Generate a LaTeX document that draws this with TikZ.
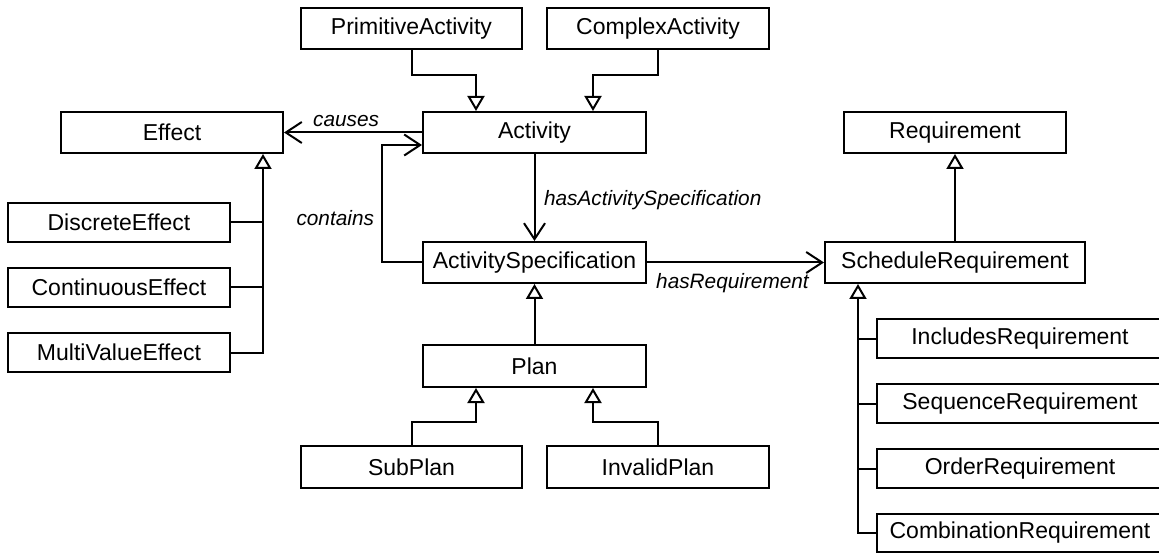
\documentclass[tikz,border=0pt]{standalone}
\usepackage{fontspec}
\setmainfont{Liberation Sans}
\usetikzlibrary{arrows.meta,calc}
\begin{document}
\begin{tikzpicture}[x=1pt,y=-1pt,
  cls/.style={draw, line width=2pt, rectangle, minimum height=41pt, inner sep=0pt,
    font=\fontsize{23}{27}\selectfont},
  lbl/.style={font=\fontsize{20.8}{24}\selectfont\itshape, inner sep=0pt},
  ln/.style={draw, line width=2pt},
  gen/.style={ln, -{Triangle[open, length=15pt, width=17pt]}},
  assoc/.style={ln, -{Straight Barb[length=16pt, width=21pt]}}]
\fill[white] (0,0) rectangle (1159,553);
\useasboundingbox (0,0) rectangle (1159,553);
% nodes
\node[cls, minimum width=221pt] (PA) at (411.5,29) {PrimitiveActivity};
\node[cls, minimum width=222pt] (CA) at (658,29) {ComplexActivity};
\node[cls, minimum width=223pt] (Act) at (534.5,132.5) {Activity};
\node[cls, minimum width=222pt] (Eff) at (172,132.5) {Effect};
\node[cls, minimum width=222pt, minimum height=39pt] (DE) at (119,222.5) {DiscreteEffect};
\node[cls, minimum width=222pt, minimum height=39pt] (CE) at (119,287.5) {ContinuousEffect};
\node[cls, minimum width=222pt, minimum height=39pt] (MV) at (119,352.5) {MultiValueEffect};
\node[cls, minimum width=223pt] (Spec) at (534.5,262.5) {ActivitySpecification};
\node[cls, minimum width=223pt, minimum height=42pt] (Plan) at (534.5,366) {Plan};
\node[cls, minimum width=221pt, minimum height=42pt] (Sub) at (411.5,467) {SubPlan};
\node[cls, minimum width=222pt, minimum height=42pt] (Inv) at (658,467) {InvalidPlan};
\node[cls, minimum width=222pt] (Req) at (955,132.5) {Requirement};
\node[cls, minimum width=260pt] (Sch) at (955,262.5) {ScheduleRequirement};
\node[cls, minimum width=286pt, minimum height=39pt] (Inc) at (1020,338.5) {IncludesRequirement};
\node[cls, minimum width=286pt, minimum height=39pt] (Seq) at (1020,403.5) {SequenceRequirement};
\node[cls, minimum width=286pt, minimum height=39pt] (Ord) at (1020,468.5) {OrderRequirement};
\node[cls, minimum width=286pt, minimum height=38pt] (Comb) at (1020,533) {CombinationRequirement};
% helper coordinates
\coordinate (actL) at ($(Act.north)+(-58.5,0)$);
\coordinate (actR) at ($(Act.north)+(58.5,0)$);
\coordinate (planL) at ($(Plan.south)+(-58.5,0)$);
\coordinate (planR) at ($(Plan.south)+(58.5,0)$);
\coordinate (effT) at ($(Eff.south east)+(-21,0)$);
\coordinate (schT) at ($(Sch.south west)+(34,0)$);
% generalizations
\draw[gen] (PA.south) -- ++(0,25) -| (actL);
\draw[gen] (CA.south) -- ++(0,25) -| (actR);
\draw[gen] (MV.east) -| (effT);
\draw[ln] (DE.east) -- (DE.east -| effT);
\draw[ln] (CE.east) -- (CE.east -| effT);
\draw[gen] (Plan.north) -- (Spec.south);
\draw[gen] (Sub.north) -- ++(0,-23) -| (planL);
\draw[gen] (Inv.north) -- ++(0,-23) -| (planR);
\draw[gen] (Sch.north) -- (Req.south);
\draw[gen] (Comb.west) -| (schT);
\draw[ln] (Inc.west) -- (Inc.west -| schT);
\draw[ln] (Seq.west) -- (Seq.west -| schT);
\draw[ln] (Ord.west) -- (Ord.west -| schT);
% associations
\draw[assoc] (Act.west) -- node[lbl, pos=0.55, yshift=11.5pt] {causes} (Eff.east);
\draw[assoc] (Spec.west) -- ++(-40,0) |- node[lbl, pos=0.19, left=7pt] {contains} ($(Act.west)+(0,12.5)$);
\draw[assoc] (Act.south) -- node[lbl, pos=0.53, right=8.5pt] {hasActivitySpecification} (Spec.north);
\draw[assoc] (Spec.east) -- node[lbl, pos=0.483, yshift=-20.5pt] {hasRequirement} (Sch.west);
\end{tikzpicture}
\end{document}
